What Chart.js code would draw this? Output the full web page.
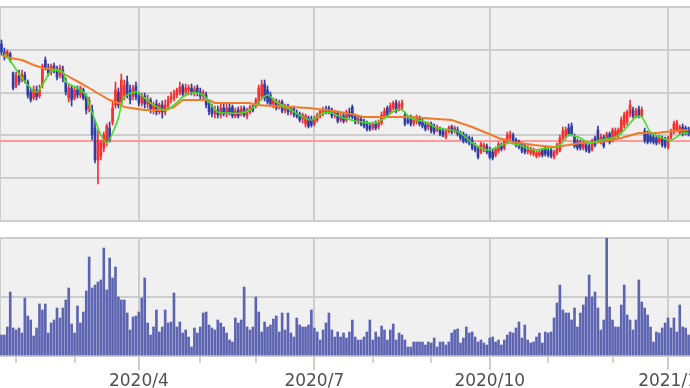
<!DOCTYPE html>
<html><head><meta charset="utf-8">
<script src="https://cdn.jsdelivr.net/npm/chart.js@4.4.0/dist/chart.umd.min.js"></script>
<style>
html,body{margin:0;padding:0;background:#fff;}
#wrap{position:relative;width:690px;height:388px;overflow:hidden;background:#fff;}
#c1{position:absolute;left:0;top:0;}
#c2{position:absolute;left:0;top:226px;}
</style></head><body>
<div id="wrap"><canvas id="c1" width="690" height="226"></canvas><canvas id="c2" width="690" height="162"></canvas></div>
<script>
// ---- data (daily candles, index 0 = first trading day shown) ----
const opens = [2060,1980,1940,1960,1770,1640,1740,1700,1750,1680,
1580,1520,1600,1540,1650,1900,1820,1780,1840,1800,
1750,1800,1680,1520,1620,1520,1600,1550,1600,1530,
1420,1400,1220,900,940,1020,1080,1220,1280,1450,
1580,1480,1550,1680,1600,1540,1640,1540,1470,1540,
1460,1500,1400,1460,1380,1450,1380,1440,1500,1520,
1550,1580,1640,1580,1600,1620,1580,1620,1580,1540,
1550,1470,1420,1360,1400,1350,1420,1360,1420,1430,
1340,1400,1360,1420,1340,1380,1430,1440,1480,1540,
1660,1600,1550,1460,1480,1440,1480,1400,1440,1380,
1420,1370,1360,1310,1260,1320,1310,1260,1300,1340,
1380,1410,1420,1400,1350,1370,1300,1340,1300,1380,
1430,1340,1280,1310,1290,1260,1240,1220,1260,1230,
1270,1330,1420,1380,1420,1470,1410,1430,1350,1300,
1320,1270,1290,1320,1280,1250,1230,1260,1230,1200,
1210,1190,1130,1190,1230,1190,1200,1170,1160,1130,
1120,1100,1040,1010,980,1010,1040,1000,980,950,
990,1040,1020,1080,1120,1150,1100,1080,1060,1040,
980,970,960,940,950,1000,1010,990,1000,930,
970,1000,1120,1130,1220,1240,1140,1080,1070,1020,
1050,1040,1000,1120,1200,1080,1130,1100,1160,1100,
1140,1150,1180,1250,1280,1360,1400,1340,1410,1350,
1190,1160,1140,1130,1120,1080,1120,1100,1030,1130,
1180,1200,1170,1230,1220,1210];
const highs = [2100,2020,2000,1980,1780,1780,1800,1800,1780,1700,
1620,1640,1640,1650,1860,1930,1860,1860,1870,1840,
1850,1840,1720,1650,1640,1630,1640,1640,1620,1560,
1530,1450,1300,1200,1100,1180,1260,1280,1480,1680,
1620,1760,1700,1740,1650,1650,1680,1580,1570,1570,
1550,1520,1480,1500,1470,1490,1500,1540,1580,1600,
1620,1680,1660,1660,1650,1660,1640,1650,1620,1600,
1580,1500,1460,1440,1440,1460,1460,1460,1470,1450,
1420,1430,1440,1440,1420,1450,1460,1520,1650,1700,
1700,1640,1580,1520,1510,1500,1500,1460,1460,1440,
1440,1400,1380,1370,1360,1340,1340,1340,1370,1410,
1430,1440,1440,1420,1400,1390,1370,1370,1400,1420,
1450,1360,1340,1330,1310,1290,1270,1280,1290,1300,
1380,1420,1440,1470,1490,1500,1490,1500,1380,1330,
1350,1330,1350,1340,1310,1280,1280,1280,1260,1250,
1230,1220,1210,1240,1250,1240,1230,1190,1180,1160,
1140,1130,1070,1040,1080,1070,1060,1030,1010,1030,
1080,1070,1110,1180,1190,1170,1120,1100,1080,1060,
1040,1030,1020,990,1000,1020,1030,1020,1020,1000,
1070,1150,1230,1230,1260,1270,1160,1110,1100,1090,
1080,1060,1110,1140,1240,1160,1150,1180,1180,1220,
1220,1220,1330,1380,1400,1500,1430,1420,1440,1430,
1220,1190,1170,1150,1140,1150,1140,1130,1140,1210,
1290,1300,1250,1260,1240,1230];
const lows = [1950,1900,1920,1880,1600,1620,1650,1680,1670,1520,
1480,1500,1500,1520,1620,1800,1740,1750,1770,1700,
1720,1680,1550,1480,1440,1500,1520,1520,1500,1360,
1380,1100,870,660,900,980,1040,1080,1250,1420,
1420,1440,1500,1520,1460,1500,1500,1440,1440,1420,
1420,1370,1360,1350,1360,1320,1350,1400,1470,1490,
1520,1550,1530,1540,1550,1550,1540,1540,1510,1500,
1420,1350,1330,1320,1320,1320,1340,1330,1350,1320,
1320,1320,1340,1330,1310,1360,1380,1420,1460,1510,
1490,1460,1440,1420,1400,1410,1370,1370,1350,1350,
1330,1320,1280,1270,1230,1220,1230,1240,1280,1320,
1340,1360,1360,1320,1320,1270,1280,1270,1280,1320,
1310,1260,1260,1240,1220,1190,1190,1200,1200,1210,
1250,1310,1330,1360,1400,1370,1390,1400,1240,1260,
1240,1240,1260,1240,1220,1190,1200,1170,1160,1180,
1140,1130,1110,1170,1160,1170,1140,1100,1070,1070,
1050,1000,980,910,960,980,960,910,900,930,
970,990,1000,1060,1100,1060,1030,1010,970,960,
960,950,940,920,930,930,940,930,920,910,
950,980,1100,1110,1140,1140,1020,1000,1000,1000,
980,970,990,1030,1070,1060,1020,1080,1060,1080,
1110,1120,1160,1220,1250,1330,1320,1320,1320,1330,
1070,1060,1070,1060,1050,1060,1030,1020,1010,1110,
1160,1180,1150,1140,1150,1140];
const closes = [1980,1940,1980,1900,1620,1740,1680,1760,1700,1550,
1500,1600,1530,1600,1840,1820,1770,1840,1800,1730,
1820,1720,1580,1620,1500,1600,1550,1620,1520,1400,
1500,1150,900,1100,1070,1150,1240,1100,1420,1600,
1450,1700,1650,1550,1500,1620,1530,1470,1540,1460,
1500,1400,1450,1380,1450,1380,1450,1500,1530,1560,
1600,1630,1560,1620,1620,1580,1610,1580,1540,1570,
1450,1380,1360,1400,1350,1420,1360,1420,1380,1340,
1390,1340,1410,1350,1400,1430,1400,1500,1620,1650,
1520,1480,1460,1500,1420,1480,1390,1440,1380,1420,
1360,1340,1300,1350,1340,1240,1250,1320,1350,1390,
1400,1380,1380,1340,1380,1290,1340,1290,1380,1340,
1330,1280,1320,1260,1240,1210,1210,1260,1220,1270,
1350,1390,1350,1440,1470,1390,1460,1470,1260,1280,
1260,1300,1330,1260,1240,1210,1260,1190,1180,1230,
1160,1150,1190,1220,1180,1220,1160,1120,1090,1090,
1070,1020,1000,930,1060,1050,980,930,920,1010,
1060,1010,1090,1150,1160,1080,1050,1030,990,980,
1020,1010,1000,970,980,950,960,950,940,980,
1050,1120,1190,1200,1160,1160,1040,1020,1020,1070,
1000,980,1080,1050,1090,1130,1040,1160,1080,1200,
1190,1200,1300,1350,1380,1450,1340,1390,1340,1400,
1100,1080,1090,1080,1070,1130,1050,1040,1120,1190,
1260,1270,1230,1160,1170,1160];
// volume (thousand shares)
const volumes = [210,210,290,640,280,260,280,230,580,400,
360,200,280,520,460,520,230,330,360,480,
380,480,560,680,320,230,500,330,440,650,
990,680,710,740,760,1080,660,980,780,890,
590,560,560,430,260,390,400,440,580,780,
330,210,290,460,240,290,460,330,340,630,
290,340,230,260,190,90,280,230,290,430,
440,310,280,260,360,330,290,230,160,140,
380,330,360,690,290,260,290,590,440,240,
340,290,310,370,400,240,430,260,430,230,
190,380,310,290,290,310,460,280,240,160,
260,330,430,260,190,240,190,230,
180,240,360,190,160,160,190,240,360,
160,240,190,300,260,160,
260,320,160,230,210,160,
90,90,140,140,140,140,
110,140,130,180,90,140,140,
110,140,230,260,270,130,
180,290,230,240,190,140,
160,130,110,180,190,140,
160,110,160,210,240,230,
280,340,180,310,160,130,140,
190,230,130,240,230,240,
380,530,710,460,430,430,
360,480,290,430,510,590,
810,590,640,480,260,360,1180,
490,360,290,290,510,710,
410,360,260,360,760,540,
480,410,290,140,240,230,
280,330,380,280,380,240,
510,290,280,210];
// moving averages: [dayIndex, price]
const maShort = [[1,1970],[4,1850],[7,1720],[9,1650],[12,1580],[15,1700],[17,1790],[21,1780],[22,1680],[26,1620],[29,1550],[30,1450],[32,1300],[34,1150],[36,1070],[38,1170],[40,1320],[41,1450],[42,1530],[46,1580],[49,1520],[52,1450],[56,1400],[59,1450],[62,1530],[65,1570],[69,1550],[71,1480],[74,1380],[77,1370],[82,1370],[85,1400],[88,1480],[91,1550],[94,1480],[99,1400],[103,1330],[106,1300],[110,1370],[113,1370],[117,1320],[123,1280],[128,1270],[131,1320],[135,1400],[137,1400],[140,1320],[145,1280],[149,1220],[154,1200],[157,1170],[161,1070],[166,1000],[169,1020],[173,1070],[177,1050],[182,1000],[187,1020],[190,1030],[192,1080],[194,1150],[198,1120],[201,1070],[205,1100],[210,1130],[213,1200],[217,1330],[219,1330],[222,1180],[226,1120],[229,1100],[233,1170],[235,1170]];
const maLong = [[0,1950],[3,1920],[7,1900],[11,1850],[14,1820],[19,1800],[22,1750],[27,1670],[30,1620],[34,1550],[37,1500],[40,1470],[42,1430],[49,1400],[56,1400],[59,1430],[62,1500],[71,1500],[73,1470],[85,1470],[87,1450],[93,1440],[105,1420],[111,1400],[118,1370],[124,1330],[140,1330],[149,1310],[154,1300],[158,1260],[161,1230],[166,1170],[170,1120],[175,1080],[182,1050],[189,1030],[194,1050],[198,1070],[205,1080],[212,1120],[218,1170],[224,1170],[230,1190],[235,1200]];
const refPrice = 1090;
// axes
const monthTickIdx = [5,25,47,68,87,107,127,147,167,187,209,228];
const monthTickLabels = ['','','2020/4','','','2020/7','','','2020/10','','','2021/1'];
const priceGrid = [290,718,1146,1574,2002,2430];
const volGrid = [0,590,1180];

// ---- styling ----
const RED = '#f23030', BLUE = '#2f3ea6', GRID = '#cdcdcd', VOL = '#5d65b3';
const N = closes.length;
const candleColor = ctx => closes[ctx.dataIndex] >= opens[ctx.dataIndex] ? RED : BLUE;

const bgPlugin = { id: 'bg', beforeDraw(chart) {
  const {ctx, chartArea: a} = chart; ctx.save(); ctx.fillStyle = '#f0f0f0';
  ctx.fillRect(a.left, a.top, a.right - a.left, a.bottom - a.top); ctx.restore(); } };

const tickPlugin = { id: 'monthTicks', afterDraw(chart) {
  const {ctx, chartArea: a} = chart; const sx = chart.scales.x; ctx.save();
  monthTickIdx.forEach((v, k) => {
    const px = Math.round(sx.getPixelForValue(v)); const major = monthTickLabels[k] !== '';
    ctx.strokeStyle = major ? GRID : '#c4c4c4'; ctx.lineWidth = major ? 2 : 1.5;
    ctx.beginPath(); ctx.moveTo(px, a.bottom); ctx.lineTo(px, a.bottom + (major ? 14 : 7)); ctx.stroke();
  }); ctx.restore(); } };

const xBase = (hAfter, showLabels) => ({
  type: 'linear', min: -0.5, max: N - 0.5, offset: false,
  afterBuildTicks: s => { s.ticks = monthTickIdx.map(v => ({value: v})); },
  afterFit: s => { s.height = hAfter; s.paddingLeft = 0; s.paddingRight = 0; },
  grid: { offset: false, color: c => (monthTickLabels[c.index] ? GRID : 'rgba(0,0,0,0)'), lineWidth: 2,
          drawTicks: showLabels, tickLength: 14, tickColor: 'rgba(0,0,0,0)' },
  border: { display: false },
  ticks: { display: showLabels, autoSkip: false, maxRotation: 0, padding: 1,
           color: '#505050', font: { family: 'DejaVu Sans', size: 17 },
           callback: (v, i) => monthTickLabels[i] }
});

const idx = [...Array(N).keys()];
new Chart(document.getElementById('c1'), {
  type: 'bar',
  data: { datasets: [
    { type: 'line', data: [{x: -0.5, y: refPrice}, {x: N - 0.5, y: refPrice}], borderColor: '#ff9a9a', borderWidth: 2, pointRadius: 0, order: 10 },
    { data: idx.map(i => ({x: i, y: [lows[i], highs[i]]})), backgroundColor: candleColor, barThickness: 1, grouped: false, order: 4 },
    { data: idx.map(i => ({x: i, y: [opens[i], closes[i]]})), backgroundColor: candleColor, barThickness: 2, minBarLength: 1, grouped: false, order: 3 },
    { type: 'line', data: maLong.map(p => ({x: p[0], y: p[1]})), borderColor: '#f07a2a', borderWidth: 2, pointRadius: 0, tension: 0, order: 2 },
    { type: 'line', data: maShort.map(p => ({x: p[0], y: p[1]})), borderColor: '#44dd22', borderWidth: 1.6, pointRadius: 0, tension: 0.3, order: 1 }
  ]},
  options: {
    responsive: false, animation: false, devicePixelRatio: 1,
    layout: { autoPadding: false, padding: { top: 7, left: 0, right: 0, bottom: 0 } },
    plugins: { legend: { display: false }, tooltip: { enabled: false } },
    scales: {
      x: xBase(5, false),
      y: { min: 290, max: 2430, afterBuildTicks: s => { s.ticks = priceGrid.map(v => ({value: v})); },
           ticks: { display: false }, grid: { color: GRID, lineWidth: 2, drawTicks: false },
           border: { display: true, color: GRID, width: 2 } }
    }
  },
  plugins: [bgPlugin]
});

new Chart(document.getElementById('c2'), {
  type: 'bar',
  data: { datasets: [
    { data: idx.map(i => ({x: i, y: volumes[i]})), backgroundColor: VOL, barThickness: 2, grouped: false }
  ]},
  options: {
    responsive: false, animation: false, devicePixelRatio: 1,
    layout: { autoPadding: false, padding: { top: 12, left: 0, right: 0, bottom: 0 } },
    plugins: { legend: { display: false }, tooltip: { enabled: false } },
    scales: {
      x: xBase(32, true),
      y: { min: 0, max: 1180, afterBuildTicks: s => { s.ticks = volGrid.map(v => ({value: v})); },
           ticks: { display: false }, grid: { color: GRID, lineWidth: 2, drawTicks: false },
           border: { display: true, color: GRID, width: 2 } }
    }
  },
  plugins: [bgPlugin, tickPlugin]
});
</script>
</body></html>
